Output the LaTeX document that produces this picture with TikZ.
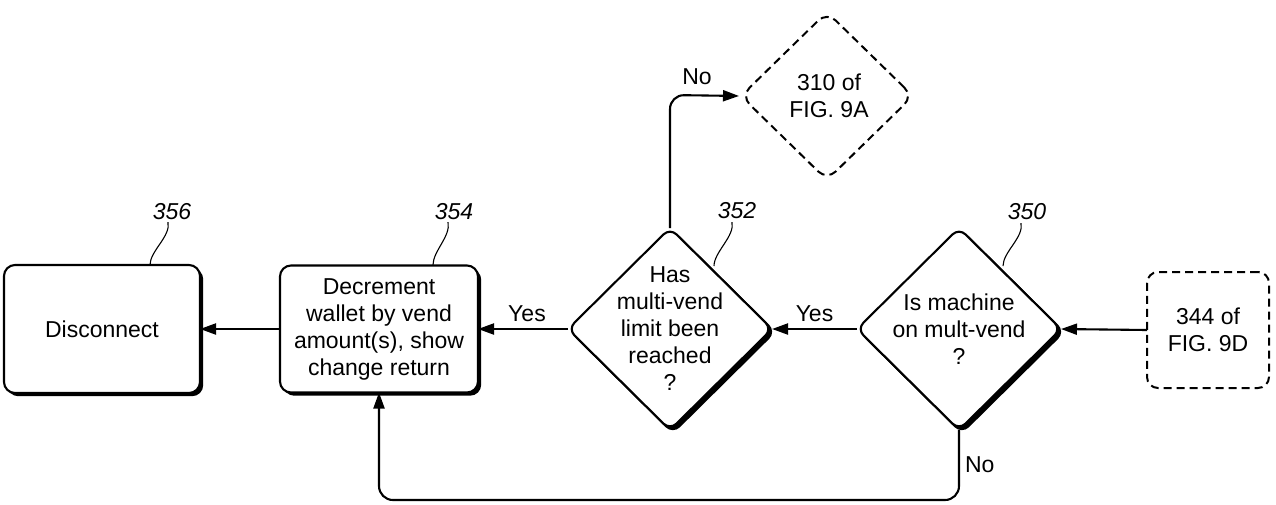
\documentclass[tikz,border=0pt]{standalone}
\usepackage{fontspec}
\setmainfont{Liberation Sans}
\usetikzlibrary{shapes.geometric,shadows,arrows.meta}
\begin{document}
\begin{tikzpicture}[x=1pt,y=-1pt,
  every node/.style={font=\fontsize{23}{27}\selectfont, align=center, inner sep=0pt, outer sep=0pt},
  arr/.style={line width=2.1pt, -{Triangle[length=16pt,width=11pt]}},
  sh/.style={general shadow={shadow xshift=3.2pt, shadow yshift=-3.2pt, fill=black}},
  shd/.style={general shadow={shadow xshift=2.8pt, shadow yshift=-2.8pt, fill=black, draw=black, line width=2.1pt}},
  procbox/.style={draw, line width=2.1pt, rounded corners=11pt, fill=white, sh},
  dashbox/.style={draw, line width=2pt, rounded corners=11pt, dash pattern=on 8pt off 5pt},
  decision/.style={draw, diamond, aspect=1, line width=2.1pt, rounded corners=9pt, fill=white, shd, minimum width=204pt, minimum height=202pt},
  dashdec/.style={draw, diamond, aspect=1, line width=2pt, rounded corners=12pt, dash pattern=on 8pt off 5pt, minimum width=172pt, minimum height=168pt},
  ref/.style={font=\fontsize{23}{27}\selectfont\itshape},
  lbl/.style={font=\fontsize{23}{27}\selectfont},
  squig/.style={line width=1.1pt}
]
\useasboundingbox (0,0) rectangle (1276,504);

\node[procbox, minimum width=196pt, minimum height=128pt] (n356) at (102,329) {Disconnect};
\node[procbox, minimum width=198pt, minimum height=127pt] (n354) at (379,329) {Decrement\\wallet by vend\\amount(s), show\\change return};
\node[decision] (n352) at (670,329) {};
\node (t352) at (670,329) {Has\\multi-vend\\limit been\\reached\\?};
\node[decision] (n350) at (959,329) {};
\node (t350) at (959,329) {Is machine\\on mult-vend\\?};
\node[dashbox, minimum width=122pt, minimum height=116pt] (n344) at (1208,330) {344 of\\FIG. 9D};
\node[dashdec] (n310) at (827,96) {};
\node (t310) at (829,96) {310 of\\FIG. 9A};

% reference numerals
\node[ref] (r356) at (172,212) {356};
\node[ref] (r354) at (454,212) {354};
\node[ref] (r352) at (737,211) {352};
\node[ref] (r350) at (1027,212) {350};
\draw[squig] (r356.south) ++(-4,2) .. controls +(3,14) and +(0,-14) .. (150,265);
\draw[squig] (r354.south) ++(-6,2) .. controls +(3,14) and +(0,-14) .. (433,265);
\draw[squig] (r352.south) ++(-5,3) .. controls +(3,14) and +(0,-14) .. (714,266);
\draw[squig] (r350.south) ++(-6,3) .. controls +(3,14) and +(0,-14) .. (1003,266);

% connectors
\draw[arr] (n344.west) -- (n350.east);
\draw[arr] (n350.west) -- (n352.east) node[lbl, midway, above=7pt] {Yes};
\draw[arr] (n352.west) -- (n354.east) node[lbl, midway, above=7pt, xshift=4pt] {Yes};
\draw[arr] (n354.west) -- (n356.east);
\coordinate (up) at (670,95);
\draw[arr, rounded corners=14pt, shorten >=2pt] (n352.north) -- (up) -- (n310.west);
\node[lbl] (no1) at (697,77) {No};
\coordinate (lb) at (379,500);
\draw[arr, rounded corners=14pt] (n350.south) |- (lb) -- (n354.south);
\node[lbl, anchor=west] (no2) at (965,465) {No};
\end{tikzpicture}
\end{document}
